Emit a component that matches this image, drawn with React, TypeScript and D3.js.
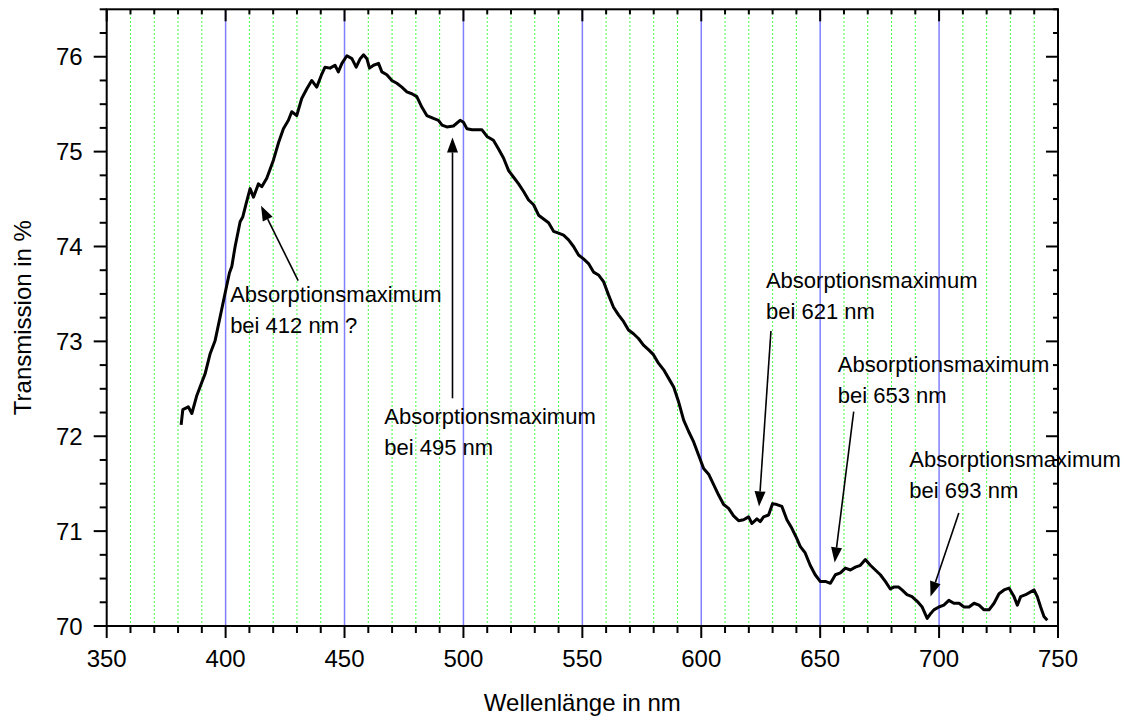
import React from "react";
import * as d3 from "d3";

const wavelength = [
  381.3, 382.0, 384.3, 385.8, 387.9, 390.0, 391.4, 393.5, 395.6, 397.7, 399.8, 401.6, 402.6, 404.0, 406.1, 407.2, 408.6, 410.3, 411.7, 413.8,
  415.2, 417.3, 420.1, 422.2, 424.3, 426.4, 427.8, 429.9, 432.0, 434.1, 436.2, 438.3, 440.5, 441.8, 443.9, 446.0, 447.4, 448.9, 451.0, 453.1,
  454.9, 456.6, 458.0, 459.4, 460.5, 462.2, 464.3, 465.7, 467.8, 469.9, 472.0, 474.1, 476.2, 478.3, 480.4, 482.5, 484.6, 487.4, 489.5, 491.0,
  493.0, 495.8, 498.6, 500.0, 501.5, 503.6, 505.7, 507.8, 509.9, 512.6, 514.7, 516.9, 519.0, 521.1, 523.2, 525.3, 527.4, 529.5, 531.6, 533.7,
  535.8, 537.9, 540.0, 542.1, 544.2, 546.3, 548.4, 550.5, 552.6, 554.7, 556.8, 558.9, 561.0, 563.1, 565.2, 567.3, 569.4, 571.5, 573.6, 575.7,
  577.9, 579.9, 582.0, 584.2, 586.3, 588.4, 590.5, 592.6, 594.7, 596.8, 598.9, 601.0, 603.1, 605.2, 607.3, 609.4, 611.5, 613.6, 615.7, 617.8,
  619.9, 621.3, 623.4, 624.8, 626.2, 628.3, 630.0, 631.8, 633.9, 636.0, 638.1, 640.2, 641.6, 643.7, 645.8, 647.9, 650.0, 652.2, 654.3, 656.4,
  658.5, 660.6, 662.7, 664.8, 666.9, 669.0, 671.1, 673.2, 675.3, 677.4, 679.5, 680.9, 683.0, 684.4, 686.5, 688.6, 690.8, 692.9, 695.0, 696.4,
  697.8, 699.9, 702.0, 704.1, 706.2, 708.4, 710.5, 712.6, 714.7, 716.8, 718.9, 721.0, 723.1, 725.2, 727.3, 729.4, 731.5, 732.9, 734.3, 736.4,
  738.5, 739.9, 741.3, 742.7, 744.1, 745.5,
];

const transmission = [
  72.12, 72.28, 72.31, 72.24, 72.43, 72.57, 72.66, 72.87, 73.01, 73.26, 73.51, 73.72, 73.79, 74.0, 74.26, 74.31, 74.45, 74.61, 74.52, 74.66,
  74.63, 74.72, 74.91, 75.09, 75.24, 75.33, 75.42, 75.38, 75.56, 75.66, 75.75, 75.68, 75.82, 75.89, 75.88, 75.91, 75.84, 75.93, 76.01, 75.98,
  75.89, 75.98, 76.02, 75.98, 75.88, 75.91, 75.93, 75.84, 75.81, 75.75, 75.72, 75.68, 75.63, 75.61, 75.58, 75.47, 75.38, 75.35, 75.33, 75.28,
  75.26, 75.27, 75.33, 75.31, 75.24, 75.23, 75.23, 75.23, 75.16, 75.12, 75.03, 74.93, 74.8, 74.73, 74.66, 74.58, 74.49, 74.44, 74.33, 74.29,
  74.25, 74.16, 74.14, 74.12, 74.07, 74.0, 73.91, 73.87, 73.82, 73.73, 73.7, 73.63, 73.49, 73.36, 73.28, 73.21, 73.12, 73.08, 73.03, 72.96,
  72.91, 72.86, 72.77, 72.7, 72.61, 72.52, 72.36, 72.17, 72.05, 71.94, 71.8, 71.66, 71.6, 71.49, 71.38, 71.28, 71.24, 71.16, 71.11, 71.12,
  71.15, 71.08, 71.13, 71.1, 71.15, 71.17, 71.29, 71.28, 71.26, 71.12, 71.03, 70.92, 70.84, 70.77, 70.64, 70.54, 70.47, 70.47, 70.45, 70.54,
  70.56, 70.61, 70.59, 70.62, 70.64, 70.7, 70.64, 70.59, 70.54, 70.47, 70.39, 70.41, 70.41, 70.38, 70.33, 70.31, 70.26, 70.2, 70.08, 70.13,
  70.17, 70.2, 70.22, 70.27, 70.24, 70.24, 70.2, 70.2, 70.24, 70.22, 70.17, 70.17, 70.24, 70.34, 70.38, 70.4, 70.31, 70.22, 70.31, 70.33,
  70.36, 70.38, 70.31, 70.2, 70.1, 70.06,
];

const xTickLabels = [350, 400, 450, 500, 550, 600, 650, 700, 750];
const yTickLabels = [70, 71, 72, 73, 74, 75, 76];
const blueGrid = [400, 450, 500, 550, 600, 650, 700];

// annotations: text anchor (nm, %) and arrow tail/tip (nm, %)
const annLine1 = ["Absorptionsmaximum", "Absorptionsmaximum", "Absorptionsmaximum", "Absorptionsmaximum", "Absorptionsmaximum"];
const annLine2 = ["bei 412 nm ?", "bei 495 nm", "bei 621 nm", "bei 653 nm", "bei 693 nm"];
const annTextX = [401.9, 466.7, 627.2, 657.4, 687.5];
const annTextY = [73.41, 72.13, 73.56, 72.68, 71.68];
const arrowTailX = [430.5, 495.4, 629.3, 664.1, 708.3];
const arrowTailY = [73.64, 72.4, 73.11, 72.26, 71.19];
const arrowTipX = [414.9, 495.4, 624.3, 656.1, 696.4];
const arrowTipY = [74.43, 75.15, 71.26, 70.67, 70.31];

const W = 1128;
const H = 719;
const FONT = "'Liberation Sans', Arial, sans-serif";

export default function App() {
  const x = d3.scaleLinear().domain([350, 750]).range([106.7, 1058]);
  const y = d3.scaleLinear().domain([70, 76.5]).range([626, 9.3]);
  const x0 = x(350), x1 = x(750), y0 = y(70), y1 = y(76.5);

  const minorX = d3.range(350, 751, 10);
  const minorY = d3.range(70, 76.51, 0.25);
  const greenGrid = d3.range(360, 741, 10).filter((v) => v % 50 !== 0);

  const line = d3
    .line<number>()
    .x((_, i) => x(wavelength[i]))
    .y((d) => y(d));

  const isMajorX = (v: number) => v % 50 === 0;
  const isMajorY = (v: number) => Math.abs(v - Math.round(v)) < 1e-6;

  return (
    <svg width={W} height={H} style={{ position: "absolute", left: 0, top: 0 }} fontFamily={FONT}>
      <rect x={0} y={0} width={W} height={H} fill="#fff" />
      {/* grid */}
      {greenGrid.map((v) => (
        <line key={"g" + v} x1={x(v)} x2={x(v)} y1={y1} y2={y0} stroke="#00ff00" strokeWidth={1} strokeDasharray="1.5 2.5" />
      ))}
      {blueGrid.map((v) => (
        <line key={"b" + v} x1={x(v)} x2={x(v)} y1={y1} y2={y0} stroke="#7f7fff" strokeWidth={1.5} />
      ))}

      {/* curve */}
      <path d={line(transmission) || ""} fill="none" stroke="#000" strokeWidth={3} strokeLinejoin="round" />

      {/* frame */}
      <rect x={x0} y={y1} width={x1 - x0} height={y0 - y1} fill="none" stroke="#000" strokeWidth={2} />

      {/* bottom ticks (outward) and top ticks (inward) */}
      {minorX.map((v) => {
        const len = isMajorX(v) ? 12 : 7;
        return (
          <g key={"xt" + v}>
            <line x1={x(v)} x2={x(v)} y1={y0} y2={y0 + len} stroke="#000" strokeWidth={2} />
            <line x1={x(v)} x2={x(v)} y1={y1} y2={y1 + (isMajorX(v) ? 12 : 5)} stroke="#000" strokeWidth={2} />
          </g>
        );
      })}
      {minorY.map((v) => {
        const len = isMajorY(v) ? 13 : 7;
        return (
          <g key={"yt" + v}>
            <line x1={x0} x2={x0 - len} y1={y(v)} y2={y(v)} stroke="#000" strokeWidth={2} />
            <line x1={x1} x2={x1 - (isMajorY(v) ? 12 : 5)} y1={y(v)} y2={y(v)} stroke="#000" strokeWidth={2} />
          </g>
        );
      })}

      {/* tick labels */}
      {xTickLabels.map((v) => (
        <text key={"xl" + v} x={x(v)} y={y0 + 41} textAnchor="middle" fontSize={24} fill="#000">
          {v}
        </text>
      ))}
      {yTickLabels.map((v) => (
        <text key={"yl" + v} x={x0 - 24} y={y(v) + 8.5} textAnchor="end" fontSize={24} fill="#000">
          {v}
        </text>
      ))}

      {/* axis titles */}
      <text x={(x0 + x1) / 2} y={711} textAnchor="middle" fontSize={24} fill="#000">
        Wellenlänge in nm
      </text>
      <text transform={`translate(31,${(y0 + y1) / 2}) rotate(-90)`} textAnchor="middle" fontSize={24} fill="#000">
        Transmission in %
      </text>

      {/* annotations */}
      {annLine1.map((t, i) => {
        const tx = x(arrowTailX[i]), ty = y(arrowTailY[i]);
        const px = x(arrowTipX[i]), py = y(arrowTipY[i]);
        const ang = Math.atan2(py - ty, px - tx);
        const hl = 15, hw = 5.5;
        const bx = px - hl * Math.cos(ang), by = py - hl * Math.sin(ang);
        const nx = -Math.sin(ang), ny = Math.cos(ang);
        const head = `M${px},${py}L${bx + nx * hw},${by + ny * hw}L${bx - nx * hw},${by - ny * hw}Z`;
        return (
          <g key={"a" + i}>
            <line x1={tx} y1={ty} x2={bx} y2={by} stroke="#000" strokeWidth={1.6} />
            <path d={head} fill="#000" />
            <text x={x(annTextX[i])} y={y(annTextY[i])} fontSize={22} fill="#000">
              {t}
            </text>
            <text x={x(annTextX[i])} y={y(annTextY[i]) + 31} fontSize={22} fill="#000">
              {annLine2[i]}
            </text>
          </g>
        );
      })}
    </svg>
  );
}
